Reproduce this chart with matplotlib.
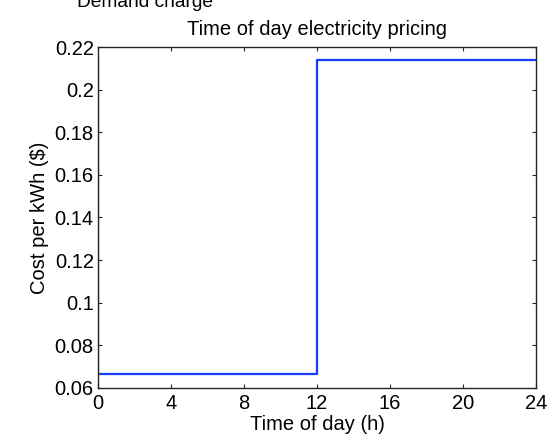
import matplotlib
matplotlib.use("Agg")
import matplotlib.pyplot as plt

# Time-of-use tariff: off-peak until noon, on-peak afterwards
hours = [0, 0, 12, 12, 24]
price = [0.2137, 0.0666, 0.0666, 0.2137, 0.2137]

x_ticks = [0, 4, 8, 12, 16, 20, 24]
y_ticks = [0.06, 0.08, 0.10, 0.12, 0.14, 0.16, 0.18, 0.20, 0.22]
y_tick_labels = ["0.06", "0.08", "0.1", "0.12", "0.14", "0.16", "0.18", "0.2", "0.22"]

plt.rcParams["font.family"] = ["Liberation Sans", "DejaVu Sans"]
FS = 14.5

fig = plt.figure(figsize=(5.54, 4.34), dpi=100)
ax = fig.add_axes([0.1769, 0.106, 0.7906, 0.7857])

ax.plot(hours, price, color="#1a3cff", linewidth=1.6)

ax.set_xlim(0, 24)
ax.set_ylim(0.06, 0.22)
ax.set_xticks(x_ticks)
ax.set_yticks(y_ticks)
ax.set_yticklabels(y_tick_labels)
ax.tick_params(direction="in", length=3, width=0.8, labelsize=FS,
               top=True, right=True, colors="#262626", labelcolor="black")
ax.tick_params(axis="x", pad=4)
ax.tick_params(axis="y", pad=3)
for s in ax.spines.values():
    s.set_linewidth(1.0)
    s.set_color("#262626")

ax.set_xlabel("Time of day (h)", fontsize=FS, labelpad=2)
ax.set_ylabel("Cost per kWh ($)", fontsize=FS, labelpad=4)
ax.set_title("Time of day electricity pricing", fontsize=FS, pad=9)

fig.text(0.139, 0.984, "Demand charge", fontsize=13.8, ha="left", va="baseline")

fig.savefig("out.png", dpi=100)
